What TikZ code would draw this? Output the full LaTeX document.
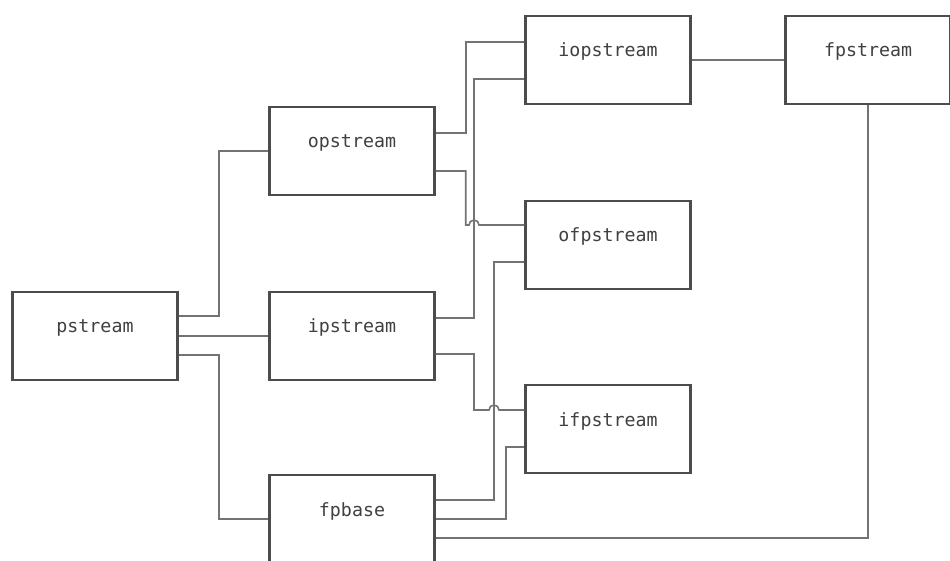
\documentclass[tikz,border=0pt]{standalone}
\usepackage{fontspec}
\setmonofont{DejaVu Sans Mono}
\usepackage{tikz}

\tikzset{
    class/.style={draw=black!70, line width=1.4pt, minimum width=3.3cm,
        minimum height=1.76cm, text height=0.3cm, text depth=0.42cm,
        font=\ttfamily\fontsize{10.4}{12}\selectfont, text=black!75},
    wire/.style={draw=black!55, line width=0.9pt}
}

\begin{document}
\begin{tikzpicture}
    \useasboundingbox (0, 0) rectangle (19, 11.2);

    % classes
    \node[class] (pstream) at (1.9, 4.48) {pstream};
    \node[class] (opstream) at (7.04, 8.18) {opstream};
    \node[class] (ipstream) at (7.04, 4.48) {ipstream};
    \node[class] (fpbase) at (7.04, 0.82) {fpbase};
    \node[class] (iopstream) at (12.16, 10) {iopstream};
    \node[class] (ofpstream) at (12.16, 6.3) {ofpstream};
    \node[class] (ifpstream) at (12.16, 2.62) {ifpstream};
    \node[class] (fpstream) at (17.36, 10) {fpstream};

    % x of the vertical runs that get jumped over
    \coordinate (ibus) at (9.48, 0);
    \coordinate (fbus) at (9.88, 0);

    % from pstream
    \draw [wire] ([yshift=4mm]pstream.east) -- ++(0.8, 0) |- (opstream.west);
    \draw [wire] (pstream.east) -- (ipstream.west);
    \draw [wire] ([yshift=-3.8mm]pstream.east) -- ++(0.8, 0) |- (fpbase.west);

    % from opstream
    \draw [wire] ([yshift=3.6mm]opstream.east) -- ++(0.6, 0) |- ([yshift=3.6mm]iopstream.west);
    \draw [wire] ([yshift=-4mm]opstream.east) -- ++(0.6, 0)
        |- ([shift={(-1mm,4mm)}]ibus |- ofpstream.west)
        arc [start angle=180, end angle=0, radius=1mm]
        -- ([yshift=4mm]ofpstream.west);

    % from ipstream
    \draw [wire] ([yshift=3.6mm]ipstream.east) -| ([yshift=-3.8mm]ibus |- iopstream.west)
        -- ([yshift=-3.8mm]iopstream.west);
    \draw [wire] ([yshift=-3.6mm]ipstream.east) -| ([yshift=3.8mm]ibus |- ifpstream.west)
        -- ([shift={(-1mm,3.8mm)}]fbus |- ifpstream.west)
        arc [start angle=180, end angle=0, radius=1mm]
        -- ([yshift=3.8mm]ifpstream.west);

    % from fpbase
    \draw [wire] ([yshift=3.8mm]fpbase.east) -| ([yshift=-3.4mm]fbus |- ofpstream.west)
        -- ([yshift=-3.4mm]ofpstream.west);
    \draw [wire] (fpbase.east) -- ++(1.4, 0) |- ([yshift=-3.6mm]ifpstream.west);
    \draw [wire] ([yshift=-3.8mm]fpbase.east) -| (fpstream.south);

    \draw [wire] (iopstream.east) -- (fpstream.west);
\end{tikzpicture}
\end{document}
